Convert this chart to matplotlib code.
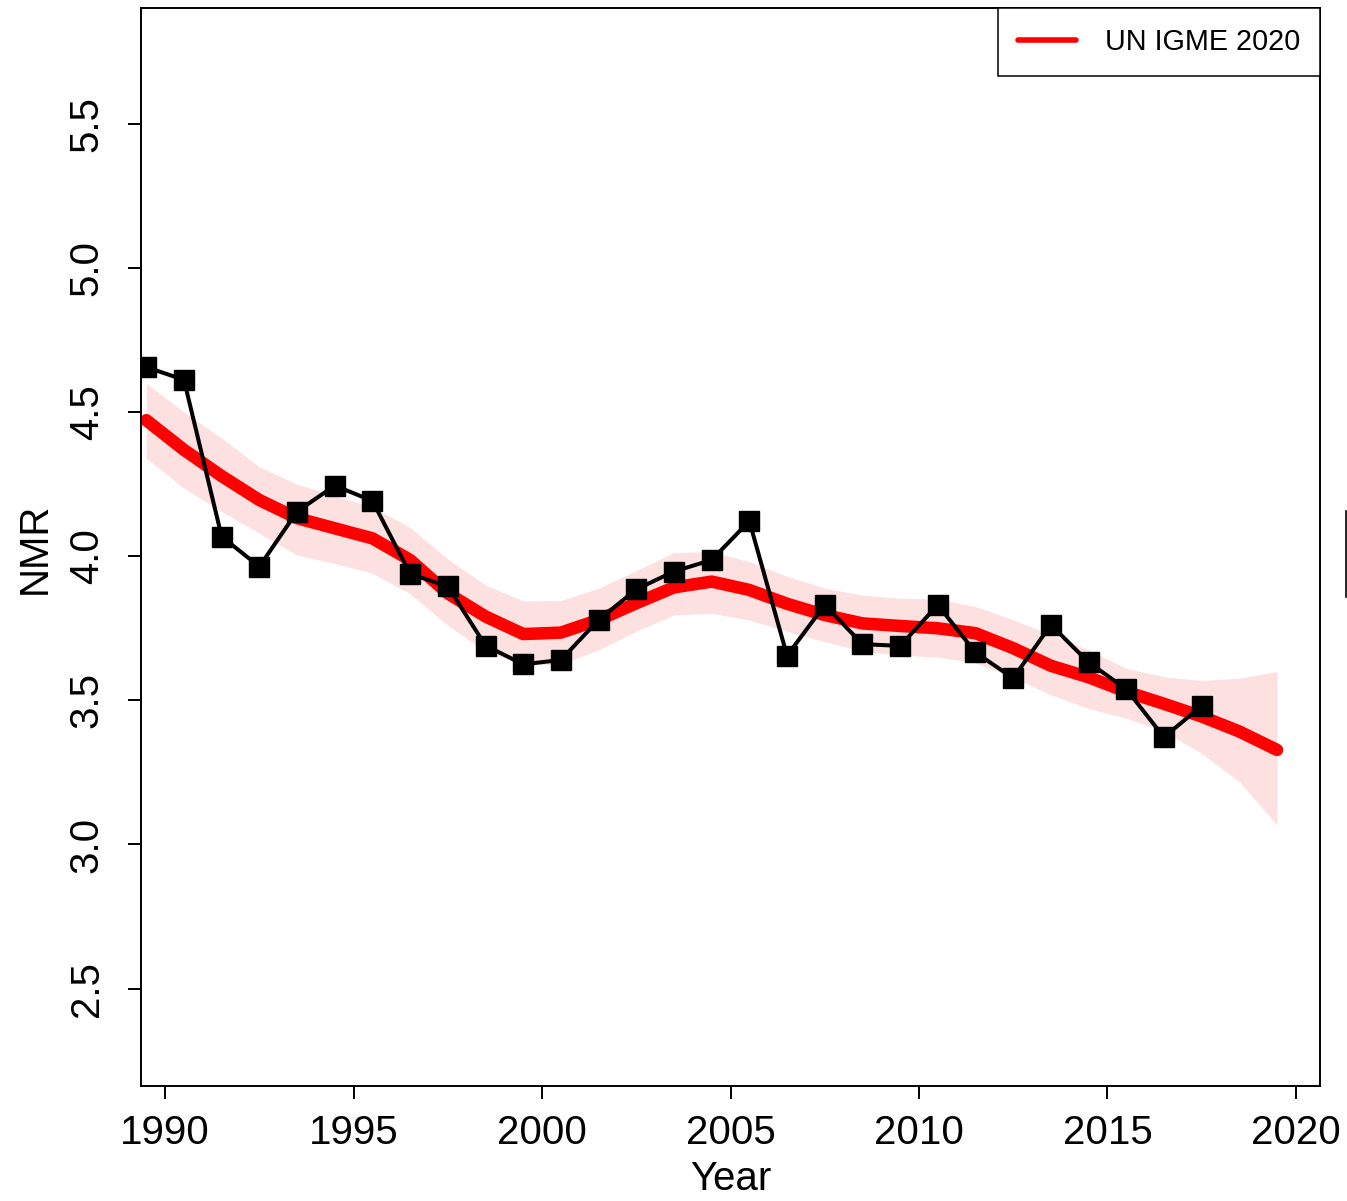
import matplotlib
matplotlib.use("Agg")
import matplotlib.pyplot as plt
from matplotlib.lines import Line2D
import numpy as np

plt.rcParams['font.family'] = ['Liberation Sans', 'DejaVu Sans']

# UN IGME 2020 estimate (red) with uncertainty band
years = np.arange(1989.5, 2020.0, 1.0)
igme = [4.472, 4.369, 4.278, 4.195, 4.132, 4.097, 4.062, 3.987, 3.871, 3.791,
        3.730, 3.735, 3.779, 3.837, 3.892, 3.912, 3.883, 3.835, 3.796, 3.767,
        3.758, 3.750, 3.733, 3.681, 3.620, 3.580, 3.530, 3.488, 3.444, 3.392,
        3.328]
igme_upper = [4.60, 4.50, 4.41, 4.31, 4.25, 4.21, 4.17, 4.10, 3.99, 3.90,
              3.845, 3.846, 3.889, 3.95, 4.013, 4.016, 3.981, 3.93, 3.889, 3.865,
              3.854, 3.852, 3.825, 3.78, 3.727, 3.675, 3.611, 3.582, 3.569, 3.577,
              3.600]
igme_lower = [4.34, 4.236, 4.155, 4.08, 4.004, 3.975, 3.941, 3.87, 3.76, 3.67,
              3.623, 3.625, 3.675, 3.74, 3.796, 3.802, 3.779, 3.74, 3.704, 3.67,
              3.657, 3.65, 3.630, 3.58, 3.519, 3.472, 3.438, 3.392, 3.316, 3.218,
              3.068]

# observed series (black squares)
obs_years = np.arange(1989.5, 2018.0, 1.0)
obs = [4.656, 4.612, 4.068, 3.964, 4.155, 4.245, 4.192, 3.939, 3.895, 3.690,
       3.625, 3.640, 3.779, 3.885, 3.947, 3.987, 4.122, 3.655, 3.831, 3.695,
       3.689, 3.831, 3.666, 3.577, 3.762, 3.632, 3.539, 3.372, 3.481]

xticks = [1990, 1995, 2000, 2005, 2010, 2015, 2020]
yticks = [2.5, 3.0, 3.5, 4.0, 4.5, 5.0, 5.5]

fig = plt.figure(figsize=(13.47, 12.01), dpi=100)
ax = fig.add_axes([141/1347, 1 - 1086/1201, (1320-141)/1347, (1086-8)/1201])

ax.fill_between(years, igme_lower, igme_upper, color='#FDE0E0', lw=0)
ax.plot(years, igme, color='#FF0000', lw=9, solid_capstyle='round',
        solid_joinstyle='round', label='UN IGME 2020')
ax.plot(obs_years, obs, color='black', lw=2.9, marker='s', markersize=14,
        markeredgewidth=1)

ax.set_xlim(1989.36, 2020.64)
ax.set_ylim(2.162, 5.902)
ax.set_xticks(xticks)
ax.set_yticks(yticks)
ax.set_yticklabels([f'{v:.1f}' for v in yticks], rotation=90, va='center')

for s in ax.spines.values():
    s.set_linewidth(1.4)
ax.tick_params(length=9.4, width=1.4, labelsize=29, direction='out')
ax.tick_params(axis='x', pad=11)
ax.tick_params(axis='y', pad=16)

ax.set_xlabel('Year', fontsize=29)
ax.xaxis.set_label_coords(0.5, -0.0685)
fig.text(35/1347, 1 - 548/1201, 'NMR', fontsize=29, rotation=90,
         ha='center', va='center')

leg = ax.legend(loc='upper right', borderaxespad=0, fancybox=False,
                edgecolor='black', framealpha=1, fontsize=20.7,
                handlelength=2.0, handletextpad=1.0, borderpad=0.7)
leg.get_frame().set_linewidth(1.1)
leg.get_lines()[0].set_linewidth(4)

# clipped edge of a neighbouring panel at the right border
fig.add_artist(Line2D([1345.5/1347, 1345.5/1347], [1 - 511/1201, 1 - 597/1201],
                      color='black', lw=1.2))

fig.savefig('out.png', dpi=100)
